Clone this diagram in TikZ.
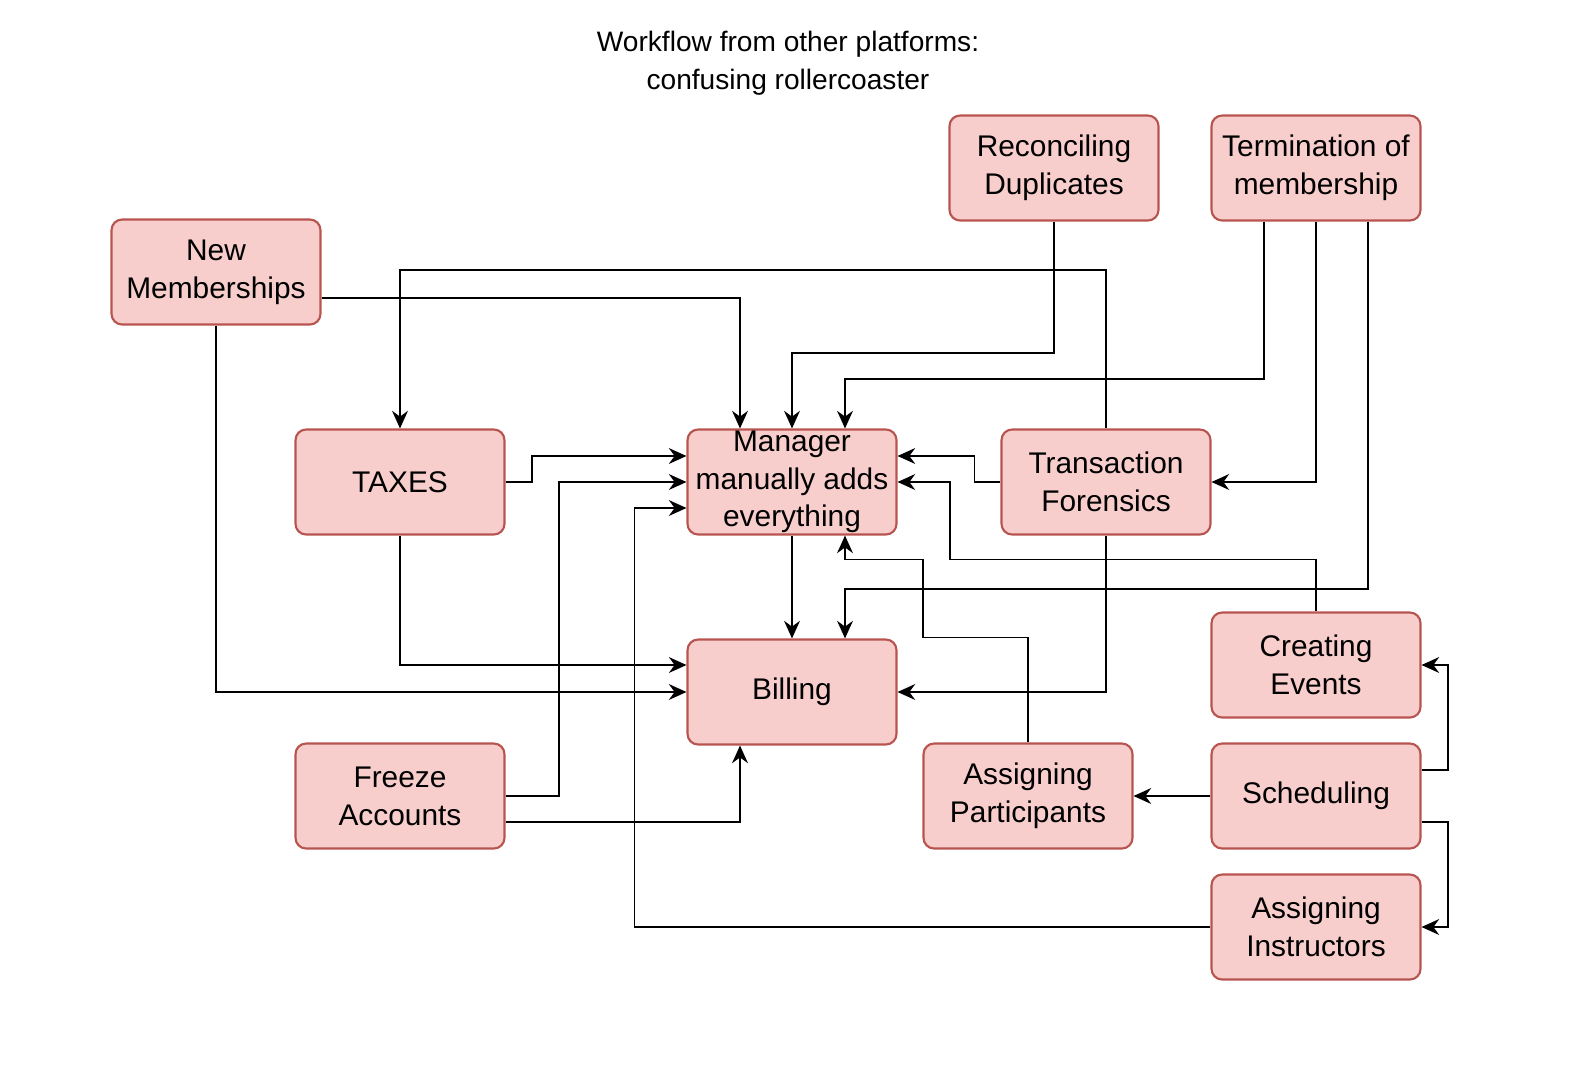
\documentclass[tikz,border=0pt]{standalone}
\usepackage{fontspec}
\setmainfont{Liberation Sans}
\usetikzlibrary{calc,arrows.meta}
\definecolor{boxfill}{HTML}{F8CECC}
\definecolor{boxdraw}{HTML}{B85450}
\begin{document}
\begin{tikzpicture}[x=0.02cm,y=-0.02cm,
  box/.style={draw=boxdraw,fill=boxfill,line width=1.2pt,rounded corners=6pt,
    minimum width=4.18cm,minimum height=2.1cm,inner sep=0pt,align=center,
    font=\fontsize{17}{21.5}\selectfont},
  conn/.style={line width=1.1pt,-{Stealth[length=10pt,width=9pt]}}]
\useasboundingbox (0,0) rectangle (1572,1069);
\node[align=center,font=\fontsize{16}{21.5}\selectfont] (title) at (788,63) {Workflow from other platforms:\\confusing rollercoaster};
\node[box] (nm) at (216,272) {New\\Memberships};
\node[box] (tx) at (400,482) {TAXES};
\node[box] (mg) at (792,482) {Manager\\manually adds\\everything};
\node[box] (tf) at (1106,482) {Transaction\\Forensics};
\node[box] (rd) at (1054,168) {Reconciling\\Duplicates};
\node[box] (te) at (1316,168) {Termination of\\membership};
\node[box] (bi) at (792,692) {Billing};
\node[box] (ce) at (1316,665) {Creating\\Events};
\node[box] (fa) at (400,796) {Freeze\\Accounts};
\node[box] (ap) at (1028,796) {Assigning\\Participants};
\node[box] (sc) at (1316,796) {Scheduling};
\node[box] (ai) at (1316,927) {Assigning\\Instructors};

\draw[conn] ($(nm.east)+(0,26)$) -| ($(mg.north)+(-52,0)$);
\draw[conn] (nm.south) |- (bi.west);
\draw[conn] (tf.north) -- ++(0,-158) -| (tx.north);
\draw[conn] (rd.south) -- ++(0,131) -| (mg.north);
\draw[conn] ($(te.south)+(-52,0)$) -- ++(0,157) -| ($(mg.north)+(53,0)$);
\draw[conn] (te.south) |- (tf.east);
\draw[conn] ($(te.south)+(52,0)$) -- ++(0,367) -| ($(bi.north)+(53,0)$);
\draw[conn] (tx.east) -- ++(26,0) |- ($(mg.west)+(0,-26)$);
\draw[conn] (tx.south) |- ($(bi.west)+(0,-27)$);
\draw[conn] (mg.south) -- (bi.north);
\draw[conn] (tf.west) -- ++(-26,0) |- ($(mg.east)+(0,-26)$);
\draw[conn] (tf.south) |- (bi.east);
\draw[conn] (ce.north) -- ++(0,-52) -| ($(mg.east)+(52,0)$) -- (mg.east);
\draw[conn] (ap.north) -- ++(0,-105) -- ++(-105,0) -- ++(0,-78) -| ($(mg.south)+(53,0)$);
\draw[conn] (fa.east) -- ++(53,0) |- (mg.west);
\draw[conn] ($(fa.east)+(0,26)$) -| ($(bi.south)+(-52,0)$);
\draw[conn] (sc.west) -- (ap.east);
\draw[conn] ($(sc.east)+(0,-26)$) -- ++(26,0) |- (ce.east);
\draw[conn] ($(sc.east)+(0,26)$) -- ++(26,0) |- (ai.east);
\draw[conn] (ai.west) -- ++(-576,0) |- ($(mg.west)+(0,26)$);
\end{tikzpicture}
\end{document}
